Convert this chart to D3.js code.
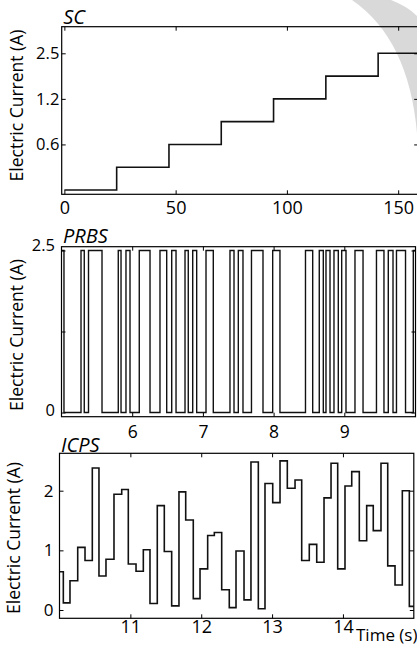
<!DOCTYPE html>
<html>
<head>
<meta charset="utf-8">
<script src="https://cdn.jsdelivr.net/npm/d3@7"></script>
<style>
  html, body { margin: 0; padding: 0; background: #fff; }
  svg { display: block; font-family: "Open Sans", "Noto Sans", sans-serif; }
</style>
</head>
<body>
<svg id="fig" width="417" height="646"></svg>
<script>
// ---- SC: staircase of constant-current steps ----
const scStepTimes  = [0, 23.5, 47, 70.5, 94, 117.5, 141];
const scStepLevels = [0.15, 0.3, 0.6, 0.9, 1.2, 1.8, 2.5];
const scEndTime    = 160;
const scXTicks     = [0, 50, 100, 150];
const scYTicks     = [0.6, 1.2, 2.5];

// ---- PRBS: two-level pseudo-random binary sequence ----
const prbsTimes = [
  5.000, 5.035, 5.276, 5.322, 5.382, 5.573, 5.803, 5.842, 5.912, 5.969,
  6.100, 6.252, 6.393, 6.488, 6.559, 6.620, 6.747, 6.793, 6.856, 6.912,
  7.044, 7.147, 7.383, 7.440, 7.501, 7.567, 7.687, 7.850, 7.987, 8.090,
  8.451, 8.553, 8.646, 8.703, 8.741, 8.798, 8.854, 8.915, 8.963, 9.024,
  9.151, 9.265, 9.455, 9.561, 9.622, 9.689, 9.738, 9.866, 9.976
];
const prbsLevels = [
  2.5, 0, 2.5, 0, 2.5, 0, 2.5, 0, 2.5, 0,
  2.5, 0, 2.5, 0, 2.5, 0, 2.5, 0, 2.5, 0,
  2.5, 0, 2.5, 0, 2.5, 0, 2.5, 0, 2.5, 0,
  2.5, 0, 2.5, 0, 2.5, 0, 2.5, 0, 2.5, 0,
  2.5, 0, 2.5, 0, 2.5, 0, 2.5, 0, 2.5
];
const prbsEndTime  = 10;
const prbsXTicks   = [6, 7, 8, 9];
const prbsYTicks   = [0, 1.25, 2.5];
const prbsYLabeled = [0, 2.5];

// ---- ICPS: multi-level current profile ----
const icpsTimes = [
  10.000, 10.054, 10.148, 10.257, 10.360, 10.463, 10.557, 10.656, 10.769, 10.878,
  10.971, 11.080, 11.183, 11.277, 11.380, 11.479, 11.583, 11.686, 11.781, 11.888,
  11.983, 12.091, 12.185, 12.289, 12.396, 12.491, 12.604, 12.702, 12.806, 12.900,
  13.009, 13.112, 13.215, 13.324, 13.418, 13.525, 13.630, 13.733, 13.832, 13.926,
  14.029, 14.124, 14.231, 14.335, 14.428, 14.537, 14.632, 14.735, 14.838, 14.937
];
const icpsValues = [
  0.64, 0.12, 0.49, 1.05, 0.83, 2.38, 0.57, 0.85, 1.94, 2.02,
  0.77, 0.65, 1.01, 0.11, 1.75, 0.98, 0.07, 1.98, 1.51, 0.19,
  0.69, 1.25, 1.30, 0.34, 0.04, 0.99, 0.17, 2.48, 0.02, 2.12,
  1.80, 2.50, 2.04, 2.18, 0.83, 1.10, 0.80, 1.88, 2.46, 0.69,
  2.08, 2.32, 1.16, 1.75, 1.33, 2.46, 0.74, 0.42, 2.00, 0.06
];
const icpsEndTime = 15;
const icpsXTicks  = [11, 12, 13, 14];
const icpsYTicks  = [0, 1, 2];

const yTitle = "Electric Current (A)";
const xTitle = "Time (s)";
const ink = "#111";

const svg = d3.select("#fig");

// faint grey swoosh in the upper-right corner of the page
svg.append("path")
  .attr("d", "M352,0 L391,0 Q409,7 418,17 L418,148 Q413,42 352,0 Z")
  .attr("fill", "#d9d9d9");

function drawPanel(p) {
  const g = svg.append("g");
  const clipId = "clip-" + p.id;
  g.append("clipPath").attr("id", clipId)
    .append("rect")
    .attr("x", p.box.l).attr("y", p.box.t)
    .attr("width", p.box.r - p.box.l).attr("height", p.box.b - p.box.t);

  // step signal
  const pts = p.times.map((t, i) => [t, p.values[i]]);
  pts.push([p.end, p.values[p.values.length - 1]]);
  const line = d3.line()
    .x(d => p.x(d[0]))
    .y(d => p.y(d[1]))
    .curve(d3.curveStepAfter);
  g.append("path")
    .attr("clip-path", `url(#${clipId})`)
    .attr("d", line(pts))
    .attr("fill", "none")
    .attr("stroke", ink)
    .attr("stroke-width", p.lw)
    .attr("stroke-linejoin", "miter");

  // inward ticks on all four sides
  const tick = 4;
  const styleAxis = (sel, size) => {
    sel.attr("color", "#000");
    sel.select(".domain").remove();
    sel.selectAll(".tick line").attr("stroke-width", 1);
    sel.selectAll("text")
      .attr("font-family", "\"Open Sans\", \"Noto Sans\", sans-serif")
      .attr("font-size", size)
      .attr("fill", "#000");
  };

  g.append("g")
    .attr("transform", `translate(0,${p.box.b})`)
    .call(d3.axisBottom(p.x).tickValues(p.xTicks).tickSizeInner(-tick)
      .tickSizeOuter(0).tickPadding(p.xPad).tickFormat(d3.format("d")))
    .call(s => styleAxis(s, p.xFont));
  g.append("g")
    .attr("transform", `translate(0,${p.box.t})`)
    .call(d3.axisTop(p.x).tickValues(p.xTicks).tickSizeInner(-tick)
      .tickSizeOuter(0).tickFormat(""))
    .call(s => styleAxis(s, p.xFont));
  const left = g.append("g")
    .attr("transform", `translate(${p.box.l},0)`)
    .call(d3.axisLeft(p.y).tickValues(p.yTicks).tickSizeInner(-tick)
      .tickSizeOuter(0).tickPadding(p.yPad).tickFormat(p.yFormat))
    .call(s => styleAxis(s, p.yFont));
  if (p.yLabelShift) {
    left.selectAll(".tick text")
      .attr("y", d => p.yLabelShift(d));
  }
  g.append("g")
    .attr("transform", `translate(${p.box.r},0)`)
    .call(d3.axisRight(p.y).tickValues(p.yTicks).tickSizeInner(-tick)
      .tickSizeOuter(0).tickFormat(""))
    .call(s => styleAxis(s, p.yFont));

  // frame
  g.append("rect")
    .attr("x", p.box.l).attr("y", p.box.t)
    .attr("width", p.box.r - p.box.l).attr("height", p.box.b - p.box.t)
    .attr("fill", "none").attr("stroke", "#000").attr("stroke-width", 1.2);

  // panel name
  g.append("text")
    .attr("x", p.box.l + 1.5).attr("y", p.titleY)
    .attr("font-size", 20).attr("font-style", "italic")
    .attr("fill", "#000")
    .text(p.title);

  // y-axis title
  g.append("text")
    .attr("transform", `translate(${p.yTitleX},${p.yTitleY}) rotate(-90)`)
    .attr("text-anchor", "middle")
    .attr("font-size", 17.5)
    .attr("fill", "#000")
    .text(yTitle);
}

// SC panel
drawPanel({
  id: "sc",
  box: { l: 61.7, r: 418.2, t: 26.7, b: 194.3 },
  x: d3.scaleLinear().domain([-1.2, 159]).range([61.7, 418.2]),
  y: d3.scalePoint().domain(scStepLevels).range([190, 53.3]),
  times: scStepTimes, values: scStepLevels, end: scEndTime,
  xTicks: scXTicks, yTicks: scYTicks,
  yFormat: d => d3.format(".1f")(d),
  xFont: 18, yFont: 16.5, xPad: 7, yPad: 2.4, lw: 1.6,
  title: "SC", titleY: 24,
  yTitleX: 23, yTitleY: 105.5
});

// PRBS panel
drawPanel({
  id: "prbs",
  box: { l: 61.5, r: 415.5, t: 246.7, b: 416.7 },
  x: d3.scaleLinear().domain([5, 10]).range([61.5, 415]),
  y: d3.scaleLinear().domain([0, 2.5]).range([412.5, 250.5]),
  times: prbsTimes, values: prbsLevels, end: prbsEndTime,
  xTicks: prbsXTicks, yTicks: prbsYTicks,
  yFormat: d => prbsYLabeled.includes(d) ? String(d) : "",
  yLabelShift: d => (d === 2.5 ? -5 : -2),
  xFont: 17.5, yFont: 16.5, xPad: 8.5, yPad: 6.5, lw: 1.4,
  title: "PRBS", titleY: 243,
  yTitleX: 23, yTitleY: 335
});

// ICPS panel
drawPanel({
  id: "icps",
  box: { l: 59.5, r: 413.8, t: 453.3, b: 618.3 },
  x: d3.scaleLinear().domain([10, 15]).range([59.5, 413.8]),
  y: d3.scaleLinear().domain([0, 2]).range([610, 490.7]),
  times: icpsTimes, values: icpsValues, end: icpsEndTime,
  xTicks: icpsXTicks, yTicks: icpsYTicks,
  yFormat: d3.format("d"),
  xFont: 18, yFont: 17, xPad: 2, yPad: 6, lw: 1.6,
  title: "ICPS", titleY: 452,
  yTitleX: 20, yTitleY: 538
});

// time axis caption
svg.append("text")
  .attr("x", 356).attr("y", 641)
  .attr("font-size", 17)
  .attr("fill", "#000")
  .text(xTitle);
</script>
</body>
</html>
